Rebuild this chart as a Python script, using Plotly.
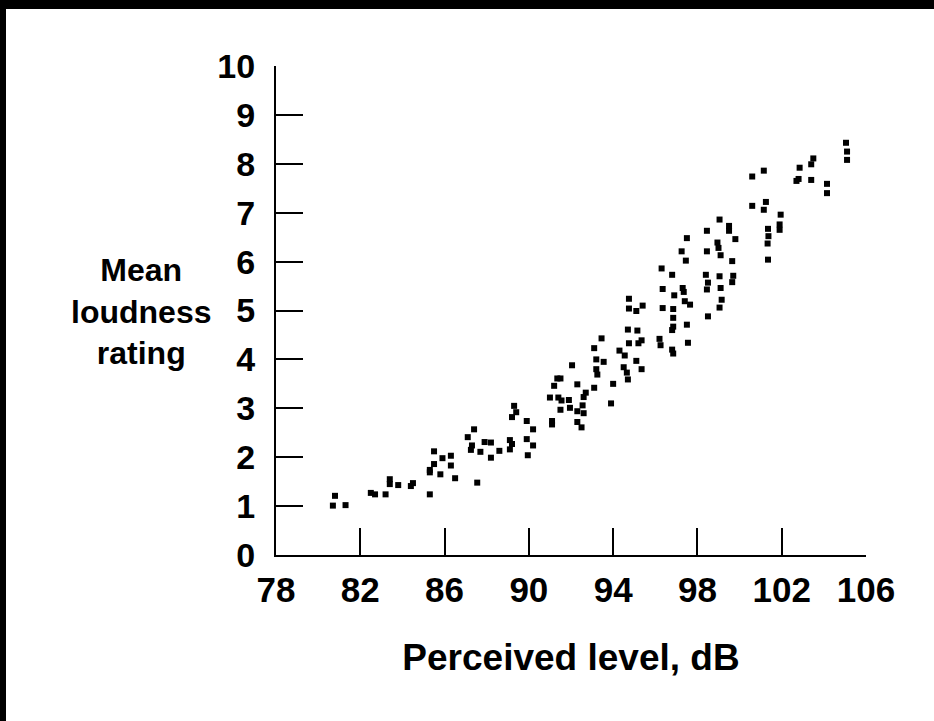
import plotly.graph_objects as go

# Perceived level (dB) and mean loudness rating
level = [
    80.8, 80.7, 81.3, 82.5, 82.7, 83.2, 83.4, 83.4, 83.8, 84.4, 84.5,
    85.3, 85.3, 85.3, 85.5, 85.5, 85.8, 85.9, 86.3, 86.3, 86.5,
    87.1, 87.4, 87.3, 87.25, 87.55, 87.7, 87.9, 88.2, 88.2, 88.6,
    89.1, 89.2, 89.1, 89.3, 89.4, 89.2, 89.9, 90.2, 89.9, 90.2, 89.95,
    91.1, 91.1, 91.0, 91.2, 91.35, 91.5, 91.4, 91.55, 91.5, 91.9, 91.95,
    92.05, 92.3, 92.3, 92.3, 92.5, 92.55, 92.6, 92.7, 92.6,
    93.1, 93.45, 93.2, 93.55, 93.2, 93.25, 93.1, 94.0, 93.9,
    94.3, 94.55, 94.5, 94.65, 94.7, 94.7, 94.75, 94.75, 94.75,
    95.1, 95.15, 95.2, 95.1, 95.4, 95.35, 95.35,
    96.2, 96.25, 96.8, 96.85, 97.55, 97.5, 96.85, 96.8, 96.85, 96.85,
    96.35, 96.35, 96.3, 96.8, 96.9, 97.3, 97.35, 97.4, 97.65,
    97.25, 97.45, 97.5, 98.45, 98.45, 98.4, 98.5, 98.45, 98.5,
    99.05, 99.5, 99.5, 98.95, 99.0, 99.1, 99.8, 99.05, 99.1, 99.15, 99.05,
    99.7, 99.65, 99.65,
    100.6, 101.25, 101.15, 101.35, 101.37, 101.33, 101.35, 100.6, 101.15,
    101.95, 101.9, 101.9, 102.85, 102.8, 102.7, 103.4, 103.4, 103.5,
    104.15, 104.15, 105.05, 105.1, 105.1,
]
rating = [
    1.21, 1.01, 1.02, 1.27, 1.24, 1.24, 1.55, 1.45, 1.43, 1.41, 1.47,
    1.24, 1.69, 1.74, 1.86, 2.12, 1.65, 1.98, 2.03, 1.83, 1.57,
    2.41, 2.57, 2.24, 2.15, 1.48, 2.11, 2.31, 2.30, 1.99, 2.13,
    2.35, 2.27, 2.16, 3.05, 2.92, 2.82, 2.74, 2.57, 2.37, 2.24, 2.04,
    2.74, 2.67, 3.22, 3.46, 3.61, 3.61, 3.22, 3.16, 2.97, 3.17, 3.01,
    3.88, 3.49, 2.94, 2.72, 2.61, 3.06, 3.23, 3.32, 2.90,
    4.23, 4.43, 4.00, 3.95, 3.80, 3.69, 3.42, 3.50, 3.10,
    4.18, 4.08, 3.84, 3.73, 3.59, 4.61, 4.33, 5.24, 5.04,
    4.99, 4.59, 4.33, 3.97, 5.10, 4.39, 3.80,
    4.42, 4.29, 4.20, 4.12, 4.34, 4.71, 4.67, 4.60, 4.85, 5.03,
    5.05, 5.44, 5.86, 5.73, 5.31, 5.46, 5.38, 5.19, 5.12,
    6.21, 6.02, 6.48, 6.21, 6.63, 5.73, 5.57, 5.43, 4.88,
    6.86, 6.73, 6.63, 6.39, 6.28, 6.13, 6.46, 5.70, 5.46, 5.22, 5.06,
    5.71, 5.58, 6.01,
    7.14, 7.22, 7.06, 6.67, 6.52, 6.37, 6.04, 7.74, 7.86,
    6.96, 6.76, 6.65, 7.92, 7.69, 7.65, 7.67, 7.99, 8.11,
    7.59, 7.40, 8.43, 8.25, 8.08,
]

x_ticks = [78, 82, 86, 90, 94, 98, 102, 106]
y_ticks = [0, 1, 2, 3, 4, 5, 6, 7, 8, 9, 10]

W, H = 934, 721
L, R, T, B = 276, 68, 66, 166
PW, PH = W - L - R, H - T - B

def px_x(px):
    return (px - L) / PW

def px_y(py):
    return (H - B - py) / PH

FONT = "Liberation Sans"

fig = go.Figure()
fig.add_trace(go.Scatter(
    x=level, y=rating, mode="markers",
    marker=dict(symbol="square", size=6, color="black", line=dict(width=0)),
    showlegend=False, hoverinfo="skip",
))

fig.update_layout(
    width=W, height=H,
    margin=dict(l=L, r=R, t=T, b=B, pad=0),
    paper_bgcolor="white", plot_bgcolor="white",
    font=dict(family=FONT, color="black"),
    xaxis=dict(
        range=[78, 106], tickvals=x_ticks, ticktext=[str(v) for v in x_ticks],
        showgrid=False, zeroline=False, showline=True, linecolor="black",
        linewidth=2, ticks="inside", ticklen=27, tickwidth=2, tickcolor="black",
        tickfont=dict(family=FONT, size=35, weight="bold"),
        ticklabelstandoff=3,
        title=dict(text="Perceived level, dB",
                   font=dict(family=FONT, size=37, weight="bold"), standoff=36),
    ),
    yaxis=dict(
        range=[0, 10], tickvals=y_ticks, ticktext=[str(v) for v in y_ticks],
        showgrid=False, zeroline=False, showline=True, linecolor="black",
        linewidth=2, ticks="inside", ticklen=27, tickwidth=2, tickcolor="black",
        tickfont=dict(family=FONT, size=34, weight="bold"),
        ticklabelstandoff=12,
    ),
    shapes=[
        dict(type="rect", xref="paper", yref="paper",
             x0=px_x(0), x1=px_x(W), y0=px_y(9), y1=px_y(0),
             fillcolor="black", line=dict(width=0), layer="above"),
        dict(type="rect", xref="paper", yref="paper",
             x0=px_x(0), x1=px_x(6), y0=px_y(H), y1=px_y(0),
             fillcolor="black", line=dict(width=0), layer="above"),
    ],
    annotations=[
        dict(text="Mean<br>loudness<br>rating", xref="paper", yref="paper",
             x=px_x(141), y=px_y(311), xanchor="center", yanchor="middle",
             showarrow=False, align="center",
             font=dict(family=FONT, size=32, weight="bold", color="black")),
    ],
)

fig.write_html(
    "out.html",
    config={"displayModeBar": False},
    post_script="document.body.style.margin='0';document.body.style.overflow='hidden';",
)
